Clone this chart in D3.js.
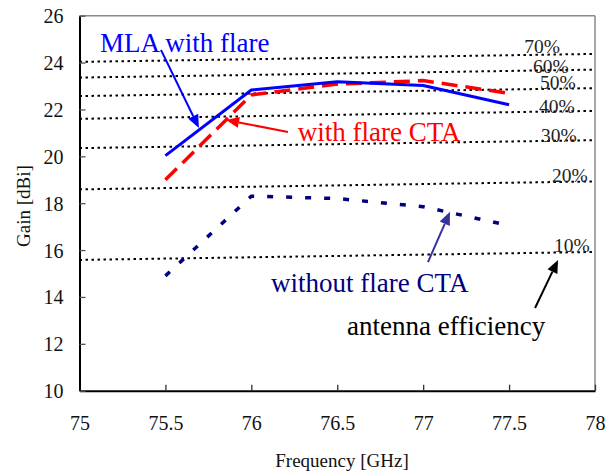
<!DOCTYPE html>
<html><head><meta charset="utf-8">
<script src="https://cdn.jsdelivr.net/npm/d3@7"></script>
<style>
html,body{margin:0;padding:0;background:#fff;}
svg text{font-family:"Liberation Serif","Times New Roman",serif !important;}
</style></head>
<body><svg id="chart" width="614" height="473"></svg>
<script>
// ---- data ----
const freqs = [75.5, 76, 76.5, 77, 77.5];
const mlaWithFlare = [20.03, 22.83, 23.18, 23.02, 22.2];
const withFlareCTA = [19.0, 22.62, 23.08, 23.23, 22.69];
const withoutFlareCTA = [14.9, 18.3, 18.2, 17.85, 17.05];

const effLabels = ["70%", "60%", "50%", "40%", "30%", "20%", "10%"];
const effGainAt75 = [24.03, 23.36, 22.57, 21.60, 20.35, 18.59, 15.58];
const effGainAt78 = [24.37, 23.70, 22.91, 21.94, 20.69, 18.93, 15.92];
const effLabelFreq = [77.588, 77.639, 77.680, 77.674, 77.686, 77.750, 77.761];
const effLabelGain = [24.40, 23.55, 22.86, 21.86, 20.62, 18.90, 15.93];

const xTicks = [75, 75.5, 76, 76.5, 77, 77.5, 78];
const yTicks = [10, 12, 14, 16, 18, 20, 22, 24, 26];

// annotations (data coordinates)
const annoTexts = [
  {text: "MLA with flare", f: 75.119, g: 24.44, color: "#0000ff"},
  {text: "with flare CTA", f: 76.27, g: 20.65, color: "#ff0000"},
  {text: "without flare CTA", f: 76.115, g: 14.21, color: "#000080"},
  {text: "antenna efficiency", f: 76.557, g: 12.38, color: "#000000"}
];
const annoArrows = [
  {f0: 75.474, g0: 24.54, f1: 75.695, g1: 21.21, color: "#0000ff", w: 2},
  {f0: 76.213, g0: 21.04, f1: 75.853, g1: 21.55, color: "#ff0000", w: 2},
  {f0: 77.028, g0: 15.49, f1: 77.156, g1: 17.63, color: "#3333a0", w: 2},
  {f0: 77.651, g0: 13.53, f1: 77.785, g1: 15.58, color: "#000000", w: 2}
];

// ---- layout ----
const svg = d3.select("#chart");
const L = 79.5, R = 595, T = 15.7, B = 390.7;
const x = d3.scaleLinear().domain([75, 78]).range([L, R]);
const y = d3.scaleLinear().domain([10, 26]).range([B, T]);

// efficiency dotted lines
effLabels.forEach((lab, i) => {
  svg.append("line")
    .attr("x1", x(75)).attr("x2", x(78))
    .attr("y1", y(effGainAt75[i])).attr("y2", y(effGainAt78[i]))
    .attr("stroke", "#000").attr("stroke-width", 2)
    .attr("stroke-dasharray", "2.5,3.5");
});

// frame: top & right gray, left & bottom black
svg.append("line").attr("x1", L).attr("x2", R).attr("y1", T).attr("y2", T)
  .attr("stroke", "#8a8a8a").attr("stroke-width", 1.5);
svg.append("line").attr("x1", R).attr("x2", R).attr("y1", T).attr("y2", B)
  .attr("stroke", "#8a8a8a").attr("stroke-width", 1.5);

// axes with inward ticks
const xAxis = d3.axisBottom(x).tickValues(xTicks).tickSizeInner(-6).tickSizeOuter(0).tickFormat(d3.format(""));
const gx = svg.append("g").attr("transform", `translate(0,${B})`).call(xAxis);
gx.select(".domain").attr("stroke", "#000").attr("stroke-width", 2);
gx.selectAll(".tick line").attr("stroke", "#333").attr("stroke-width", 1.3);
gx.selectAll(".tick text").attr("font-size", 20).attr("fill", "#111")
  .attr("dy", "0.71em").attr("y", 25);

const yAxis = d3.axisLeft(y).tickValues(yTicks).tickSizeInner(-6).tickSizeOuter(0).tickFormat(d3.format(""));
const gy = svg.append("g").attr("transform", `translate(${L},0)`).call(yAxis);
gy.select(".domain").attr("stroke", "#000").attr("stroke-width", 2);
gy.selectAll(".tick line").attr("stroke", "#555").attr("stroke-width", 1.3);
gy.selectAll(".tick text").attr("font-size", 20).attr("fill", "#111")
  .attr("x", -16).attr("dy", "0.35em");

// series
const line = d3.line().x((d, i) => x(freqs[i])).y(d => y(d));
svg.append("path").datum(withoutFlareCTA).attr("d", line)
  .attr("fill", "none").attr("stroke", "#000080").attr("stroke-width", 3.5)
  .attr("stroke-dasharray", "6,13");
svg.append("path").datum(withFlareCTA).attr("d", line)
  .attr("fill", "none").attr("stroke", "#ff0000").attr("stroke-width", 3.5)
  .attr("stroke-dasharray", "16,8");
svg.append("path").datum(mlaWithFlare).attr("d", line)
  .attr("fill", "none").attr("stroke", "#0000ff").attr("stroke-width", 3)
  .attr("stroke-linejoin", "round");

// efficiency labels
effLabels.forEach((lab, i) => {
  svg.append("text").attr("x", x(effLabelFreq[i])).attr("y", y(effLabelGain[i]))
    .attr("font-size", 19.5).attr("fill", "#222").text(lab);
});

// annotation texts
annoTexts.forEach(a => {
  svg.append("text").attr("x", x(a.f)).attr("y", y(a.g))
    .attr("font-size", 27).attr("fill", a.color).text(a.text);
});

// arrows
annoArrows.forEach(a => {
  const x0 = x(a.f0), y0 = y(a.g0), x1 = x(a.f1), y1 = y(a.g1);
  const ang = Math.atan2(y1 - y0, x1 - x0);
  const hl = 13, hw = 5.5;
  const bx = x1 - hl * Math.cos(ang), by = y1 - hl * Math.sin(ang);
  svg.append("line").attr("x1", x0).attr("y1", y0).attr("x2", bx).attr("y2", by)
    .attr("stroke", a.color).attr("stroke-width", a.w);
  const px = -Math.sin(ang) * hw, py = Math.cos(ang) * hw;
  svg.append("path")
    .attr("d", `M${x1},${y1}L${bx + px},${by + py}L${bx - px},${by - py}Z`)
    .attr("fill", a.color);
});

// axis titles
svg.append("text").attr("x", 342).attr("y", 467)
  .attr("text-anchor", "middle").attr("font-size", 19).attr("fill", "#111").text("Frequency [GHz]");
svg.append("text").attr("transform", "translate(30,206) rotate(-90)")
  .attr("text-anchor", "middle").attr("font-size", 19).attr("fill", "#111").text("Gain [dBi]");
</script></body></html>
